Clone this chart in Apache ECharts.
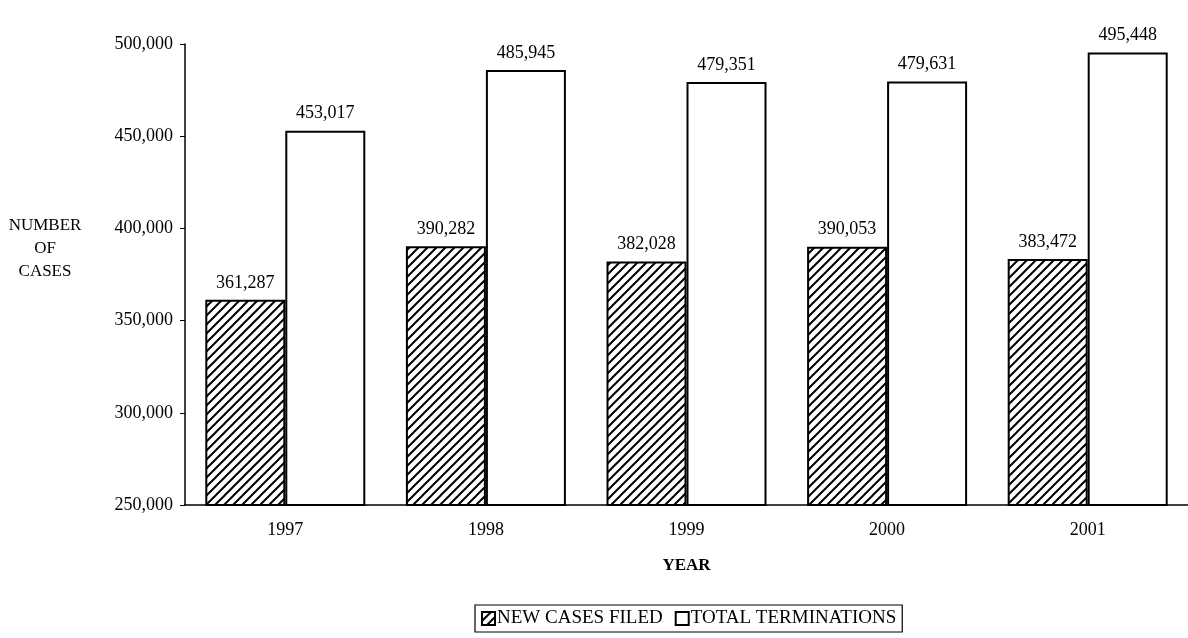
<!DOCTYPE html>
<html><head><meta charset="utf-8">
<script src="https://cdn.jsdelivr.net/npm/echarts@6/dist/echarts.min.js"></script>
<style>html,body{margin:0;padding:0;background:#fff}#c{width:1188px;height:638px}</style>
</head><body><div id="c"></div>
<script>
const years = ['1997','1998','1999','2000','2001'];
const newCasesFiled = [361287, 390282, 382028, 390053, 383472];
const totalTerminations = [453017, 485945, 479351, 479631, 495448];
const yTicks = [250000, 300000, 350000, 400000, 450000, 500000];
const yTitleLines = ['NUMBER', 'OF', 'CASES'];

const tile = document.createElement('canvas');
tile.width = 9; tile.height = 9;
const g = tile.getContext('2d');
g.fillStyle = '#fff'; g.fillRect(0,0,9,9);
g.strokeStyle = '#000'; g.lineWidth = 2;
g.beginPath();
g.moveTo(-1,10); g.lineTo(10,-1);
g.moveTo(-5,5); g.lineTo(5,-5);
g.moveTo(4,14); g.lineTo(14,4);
g.stroke();

const font = '"Liberation Serif", "Times New Roman", serif';
const fmt = v => v.toLocaleString('en-US');
const chart = echarts.init(document.getElementById('c'));
chart.setOption({
  animation: false,
  textStyle: {fontFamily: font, color: '#000'},
  grid: {left: 185, right: -3, top: 44, bottom: 133, containLabel: false},
  xAxis: {
    type: 'category', data: years,
    name: 'YEAR', nameLocation: 'middle', nameGap: 52,
    nameTextStyle: {fontFamily: font, fontSize: 17, color: '#000', fontWeight: 'bold'},
    axisLine: {lineStyle: {color: '#000', width: 1.5}},
    axisTick: {show: false},
    axisLabel: {fontFamily: font, fontSize: 18, color: '#000', margin: 16}
  },
  yAxis: {
    type: 'value', min: 250000, max: 500000, interval: 50000,
    axisLine: {show: true, lineStyle: {color: '#000', width: 1.5}},
    axisTick: {show: true, length: 5, lineStyle: {color: '#000'}},
    splitLine: {show: false},
    axisLabel: {fontFamily: font, fontSize: 18, color: '#000', margin: 12,
      formatter: v => yTicks.includes(v) ? fmt(v) : ''}
  },
  legend: {
    bottom: 6, left: 475,
    borderColor: '#000', borderWidth: 1.2, padding: [4, 6, 4, 6],
    icon: 'rect', itemWidth: 13, itemHeight: 13, itemGap: 12,
    textStyle: {fontFamily: font, fontSize: 19, color: '#000', padding: [0, 0, 0, -3]},
    data: ['NEW CASES FILED', 'TOTAL TERMINATIONS']
  },
  graphic: yTitleLines.map((t, i) => ({
    type: 'text', x: 45, y: 226 + i * 23,
    style: {text: t, font: '17px ' + font, fill: '#000', align: 'center', verticalAlign: 'middle'}
  })),
  series: [
    {
      name: 'NEW CASES FILED', type: 'bar', data: newCasesFiled,
      barWidth: 80, barGap: '0%',
      itemStyle: {color: {image: tile, repeat: 'repeat'}, borderColor: '#000', borderWidth: 2},
      label: {show: true, position: 'top', distance: 8, formatter: p => fmt(p.value),
        fontFamily: font, fontSize: 18, color: '#000'}
    },
    {
      name: 'TOTAL TERMINATIONS', type: 'bar', data: totalTerminations,
      barWidth: 80,
      itemStyle: {color: '#fff', borderColor: '#000', borderWidth: 2},
      label: {show: true, position: 'top', distance: 8, formatter: p => fmt(p.value),
        fontFamily: font, fontSize: 18, color: '#000'}
    }
  ]
});
</script></body></html>
